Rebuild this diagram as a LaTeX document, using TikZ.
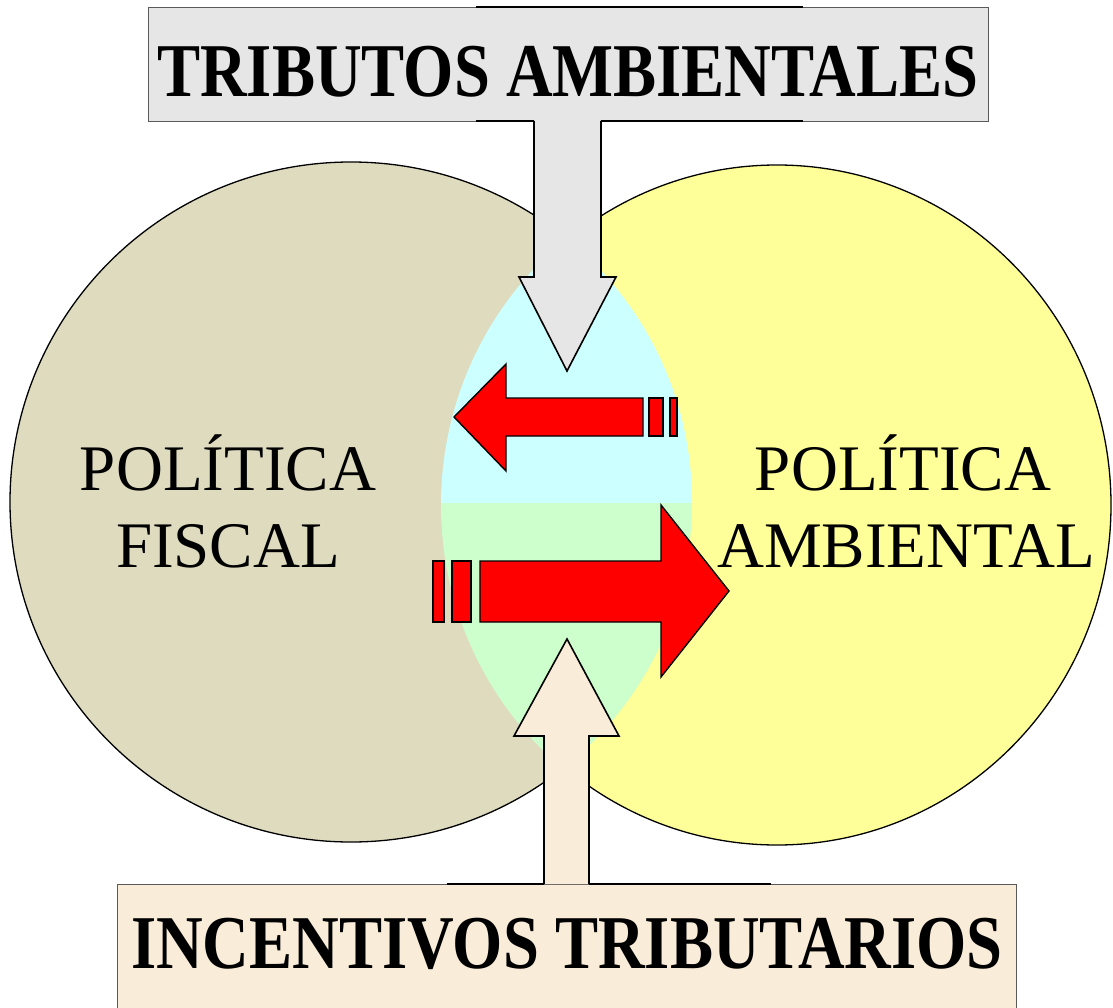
\documentclass[tikz,border=0pt]{standalone}
\usepackage{fontspec}
\setmainfont{Liberation Serif}
\definecolor{fiscal}{RGB}{222,219,191}
\definecolor{amb}{RGB}{255,255,153}
\definecolor{lenscyan}{RGB}{204,255,255}
\definecolor{lensgreen}{RGB}{204,255,204}
\definecolor{graybox}{RGB}{230,230,230}
\definecolor{beigebox}{RGB}{249,236,216}
\definecolor{boxedge}{RGB}{90,90,90}
\tikzset{
  circ/.style={draw=black, line width=1.3pt},
  redarrow/.style={fill=red, draw=black, line width=1.4pt, line join=miter},
  callout/.style={draw=black, line width=1.6pt, line join=miter},
  labelbox/.style={draw=boxedge, line width=0.9pt},
  bigtitle/.style={font=\fontsize{76}{80}\selectfont\bfseries, inner sep=0pt, anchor=base},
  circtext/.style={font=\fontsize{65}{77}\selectfont, inner sep=0pt, anchor=base}
}
\begin{document}
\begin{tikzpicture}[x=1pt,y=-1pt]
\useasboundingbox (0,0) rectangle (1113,1008);
% circles
\path[circ, fill=fiscal] (351,502) ellipse [x radius=341, y radius=340];
\path[circ, fill=amb] (777,505) ellipse [x radius=334, y radius=340];
% lens
\begin{scope}
  \clip (351,502) ellipse [x radius=341, y radius=340];
  \clip (777,505) ellipse [x radius=336, y radius=342];
  \fill[lenscyan] (400,100) rectangle (760,503);
  \fill[lensgreen] (400,503) rectangle (760,900);
\end{scope}
% red arrows
\path[redarrow] (454,417) -- (506,364) -- (506,398) -- (643,398) -- (643,436) -- (506,436) -- (506,471) -- cycle;
\path[redarrow] (649,398) rectangle (663,436);
\path[redarrow] (670,398) rectangle (677,436);
\path[redarrow] (729,591) -- (661,505) -- (661,561) -- (480,561) -- (480,622) -- (661,622) -- (661,677) -- cycle;
\path[redarrow] (452,561) rectangle (471,622);
\path[redarrow] (433,561) rectangle (444,622);
% top callout
\path[labelbox, fill=graybox] (148,7) rectangle (988,121);
\path[callout, fill=graybox] (534,121) -- (534,277) -- (519,277) -- (567,371) -- (616,277) -- (601,277) -- (601,121);
\draw[callout] (476,7) -- (803,7);
\draw[callout] (476,121) -- (534,121);
\draw[callout] (601,121) -- (803,121);
\node[bigtitle] (trib) at (568,97) {\scalebox{0.85}[1]{TRIBUTOS AMBIENTALES}};
% bottom callout
\path[labelbox, fill=beigebox] (117,884) rectangle (1016,1012);
\path[callout, fill=beigebox] (544,884) -- (544,736) -- (514,736) -- (567,639) -- (619,736) -- (589,736) -- (589,884);
\draw[callout] (447,884) -- (544,884);
\draw[callout] (589,884) -- (771,884);
\node[bigtitle] (inc) at (567,968) {\scalebox{0.85}[1]{INCENTIVOS TRIBUTARIOS}};
% circle texts
\node[circtext] (pf1) at (228,490) {POLÍTICA};
\node[circtext] (pf2) at (228,567) {FISCAL};
\node[circtext] (pa1) at (903,490) {POLÍTICA};
\node[circtext] (pa2) at (906,567) {AMBIENTAL};
\end{tikzpicture}
\end{document}
